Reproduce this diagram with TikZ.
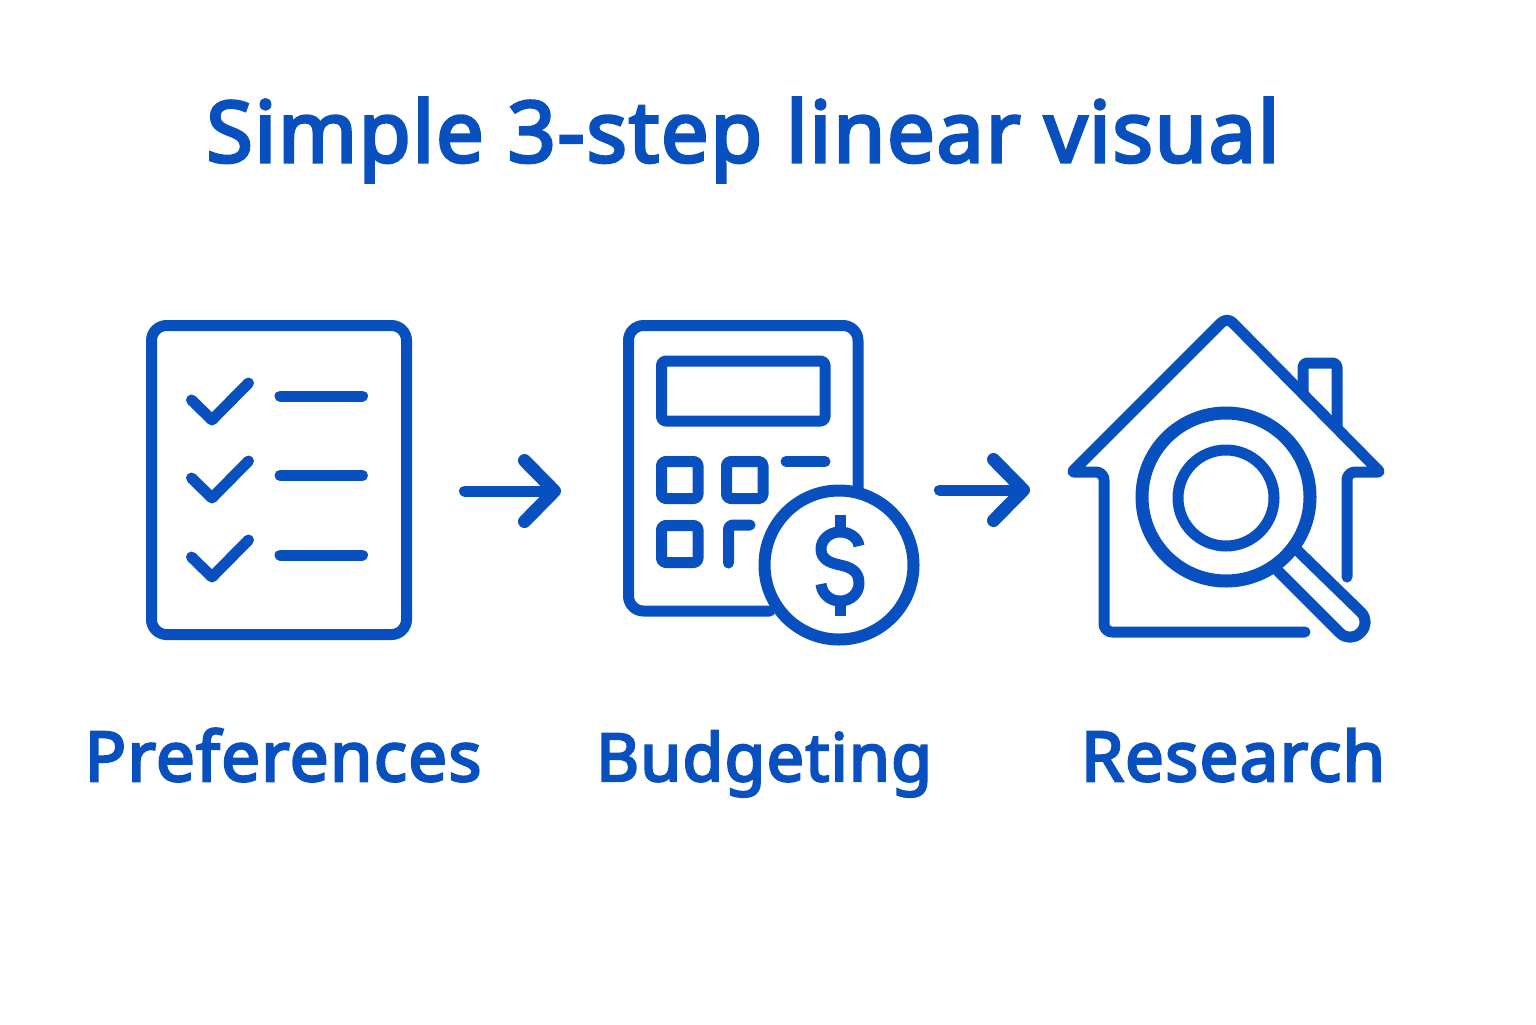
\documentclass[tikz,border=0pt]{standalone}
\usepackage{fontspec}
\setmainfont{Noto Sans}[FakeBold=3.6,LetterSpace=2]
\usetikzlibrary{arrows.meta}
\definecolor{iconblue}{RGB}{8,80,192}
\tikzset{
  stroke/.style={draw=iconblue,line width=5.5pt,line cap=round,line join=round},
  lbl/.style={text=iconblue,font=\fontsize{34.4}{40}\selectfont,inner sep=0pt,anchor=base},
  flow/.style={stroke,-{Straight Barb[round,length=15pt,width=30.5pt,line width=6.5pt]}}
}
\begin{document}
\begin{tikzpicture}[x=0.5pt,y=-0.5pt]
\useasboundingbox (0,0) rectangle (1536,1024);
\node[text=iconblue,font=\fontsize{42.3}{48}\selectfont,inner sep=0pt,anchor=base] (title) at (743,162) {Simple 3-step linear visual};
% checklist
\node[stroke,rounded corners=7.5pt,minimum width=127.5pt,minimum height=154.5pt,inner sep=0pt] (prefs) at (279,480) {};
\foreach \y/\z in {0/0,78/79.5,157/159} {
\draw[stroke] (191.5,400+\y) -- (212,420+\y) -- (248.5,383+\y);
\draw[stroke] (280,396+\z) -- (362.5,396+\z);
}
% calculator
\draw[stroke,rounded corners=7.5pt] (770,611) -- (628.5,611) -- (628.5,325.5) -- (858,325.5) -- (858,490);
\draw[stroke,rounded corners=2pt] (661.5,361) rectangle (825,421);
\draw[stroke,rounded corners=2pt] (661.5,461.5) rectangle (698,498.5);
\draw[stroke,rounded corners=2pt] (726.5,461.5) rectangle (763,498.5);
\draw[stroke,rounded corners=2pt] (661.5,525.5) rectangle (698,562.5);
\draw[stroke] (786,461.5) -- (825,461.5);
\draw[stroke,rounded corners=2pt] (728.5,563) -- (728.5,525) -- (750,525);
\node[stroke,line width=6pt,circle,minimum size=74.5pt,inner sep=0pt,fill=white] (coin) at (839,565) {};
\draw[stroke,line cap=butt] (859,546) .. controls (858,538) and (850,532) .. (840,532) .. controls (829,532) and (821,540) .. (821,549) .. controls (821,560) and (831,563) .. (840,565) .. controls (850,567) and (859,571) .. (859,583) .. controls (859,594) and (850,601) .. (840,601) .. controls (830,601) and (822,594) .. (821,584);
\draw[stroke,line cap=butt] (840,515) -- (840,532);
\draw[stroke,line cap=butt] (840,601) -- (840,616);
% house
\draw[stroke,rounded corners=4pt] (1305,632) -- (1104,632) -- (1104,472) [rounded corners=1pt] -- (1072,472) [rounded corners=4pt] -- (1227,317) [rounded corners=1pt] -- (1380,472) [rounded corners=4pt] -- (1347,472) -- (1347,577);
\draw[stroke,rounded corners=2pt] (1303,393) -- (1303,363) -- (1337,363) -- (1337,427);
\draw[stroke,rounded corners=7pt] (1277,570) -- (1350,643) -- (1371,622) -- (1297,550);
\node[stroke,line width=6.5pt,circle,minimum size=84pt,inner sep=0pt,fill=white] (lens) at (1226,497) {};
\node[stroke,circle,minimum size=48pt,inner sep=0pt] (lensin) at (1226,498) {};
% captions
\node[lbl] (c1) at (283,781) {Preferences};
\node[lbl,font=\fontsize{33.1}{40}\selectfont] (c2) at (764,781) {Budgeting};
\node[lbl] (c3) at (1233,781) {Research};
% arrows
\coordinate (a1) at (464.5,491);
\coordinate (a2) at (561,491);
\coordinate (b1) at (939.5,490);
\coordinate (b2) at (1030,490);
\draw[flow] (a1) -- (a2);
\draw[flow] (b1) -- (b2);
\end{tikzpicture}
\end{document}
